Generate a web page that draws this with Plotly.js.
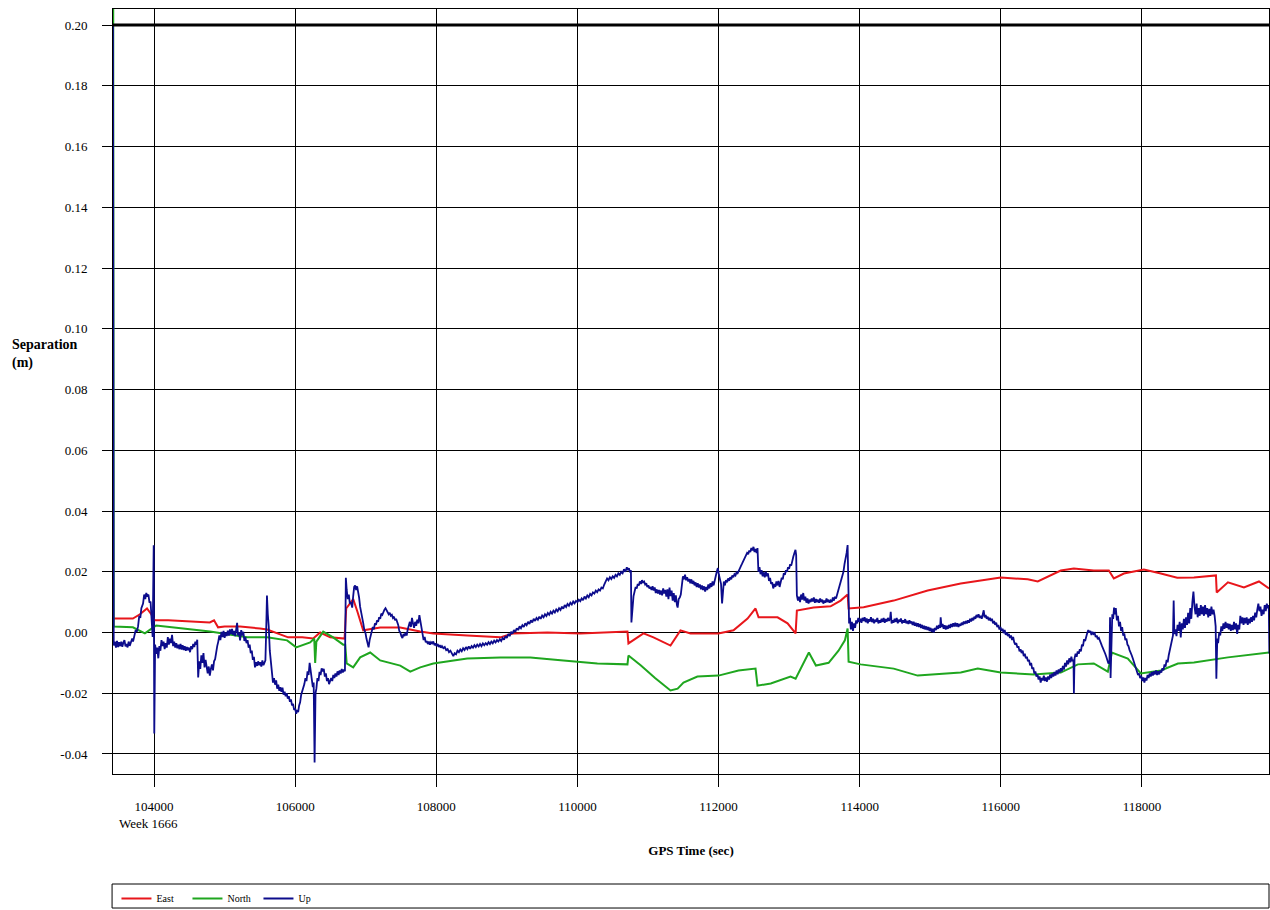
<!DOCTYPE html>
<html>
<head>
<meta charset="utf-8">
<script src="https://cdn.plot.ly/plotly-3.0.1.min.js"></script>
<style>html,body{margin:0;padding:0;background:#fff;}#chart{width:1270px;height:910px;}</style>
</head>
<body>
<div id="chart"></div>
<script>
// GPS time (sec), week 1666
const eastT = [103418,103700,103800,103900,103960,104010,104200,104500,104790,104850,104907,105000,105219,105500,105602,105900,106100,106255,106354,106496,106700,106723,106780,106822,106880,106964,107205,107489,107772,107957,108439,108907,109092,109574,110042,110709,110723,110936,111078,111319,111460,111602,111999,112212,112411,112524,112567,112836,112978,113092,113110,113347,113588,113730,113829,113843,114056,114482,114964,115432,115999,116382,116524,116850,117035,117318,117531,117602,117744,118028,118268,118500,118737,119049,119060,119219,119446,119659,119801];
const eastV = [0.0046,0.0046,0.0060,0.0079,0.0060,0.0040,0.0040,0.0036,0.0033,0.0040,0.0017,0.0020,0.0020,0.0013,0.0010,-0.0016,-0.0016,-0.0020,0.0000,-0.0016,-0.0020,0.0079,0.0095,0.0110,0.0070,0.0007,0.0016,0.0016,0.0003,-0.0003,-0.0010,-0.0016,-0.0003,0.0000,-0.0003,0.0003,-0.0036,-0.0003,-0.0016,-0.0043,0.0007,-0.0003,-0.0003,0.0007,0.0046,0.0079,0.0050,0.0050,0.0030,-0.0003,0.0072,0.0082,0.0086,0.0105,0.0125,0.0079,0.0083,0.0105,0.0138,0.0161,0.0181,0.0175,0.0168,0.0204,0.0211,0.0204,0.0204,0.0178,0.0194,0.0207,0.0194,0.0180,0.0181,0.0188,0.0132,0.0165,0.0148,0.0168,0.0145];

const northT = [103418,103428,103700,103800,103870,103950,104030,104411,104794,105319,105602,105886,106014,106212,106270,106283,106300,106397,106538,106680,106709,106730,106822,106921,107063,107205,107489,107631,107772,107957,108439,108907,109333,109801,110283,110709,110723,110900,111100,111319,111420,111503,111700,111999,112283,112524,112552,112740,113020,113092,113162,113280,113380,113560,113700,113790,113829,113843,114013,114482,114822,115432,115673,115999,116467,116850,117092,117318,117517,117574,117800,117985,118268,118510,118737,119219,119801];
const northV = [0.3000,0.0020,0.0017,0.0005,-0.0003,0.0010,0.0023,0.0013,0.0003,-0.0016,-0.0016,-0.0026,-0.0049,-0.0033,-0.0020,-0.0100,-0.0030,0.0003,-0.0016,-0.0040,-0.0040,-0.0102,-0.0115,-0.0082,-0.0066,-0.0092,-0.0109,-0.0129,-0.0115,-0.0102,-0.0086,-0.0082,-0.0082,-0.0092,-0.0102,-0.0105,-0.0076,-0.0109,-0.0150,-0.0191,-0.0185,-0.0165,-0.0145,-0.0142,-0.0125,-0.0119,-0.0175,-0.0168,-0.0145,-0.0152,-0.0119,-0.0066,-0.0109,-0.0100,-0.0060,-0.0026,0.0013,-0.0096,-0.0105,-0.0119,-0.0142,-0.0132,-0.0119,-0.0132,-0.0138,-0.0132,-0.0105,-0.0102,-0.0129,-0.0066,-0.0086,-0.0135,-0.0125,-0.0102,-0.0099,-0.0082,-0.0066];

// Up component as [time, separation] readings
const upPoints = [
[103418,0.2000],[103428,-0.0043],[103445,-0.0030],[103460,-0.0050],[103475,-0.0028],[103490,-0.0048],[103505,-0.0032],[103520,-0.0045],[103535,-0.0030],[103550,-0.0047],[103565,-0.0033],[103580,-0.0025],[103595,-0.0046],[103610,-0.0038],[103625,-0.0049],[103640,-0.0030],[103655,-0.0044],[103670,-0.0036],[103690,-0.0020],[103702,-0.0030],[103720,-0.0005],[103740,0.0008],[103755,0.0002],[103773,0.0020],[103790,0.0055],[103805,0.0048],[103820,0.0080],[103844,0.0095],[103860,0.0125],[103875,0.0110],[103890,0.0130],[103905,0.0118],[103920,0.0125],[103935,0.0098],[103950,0.0102],[103962,0.0040],[103980,-0.0015],[103995,0.0287],[104003,-0.0333],[104015,-0.0040],
[104030,-0.0070],[104045,-0.0050],[104060,-0.0085],[104075,-0.0045],[104090,-0.0060],[104105,-0.0025],[104120,-0.0045],[104135,-0.0030],[104150,-0.0055],[104165,-0.0035],[104180,-0.0050],[104195,-0.0015],[104210,-0.0040],[104225,-0.0020],[104240,-0.0035],[104255,-0.0008],[104270,-0.0045],[104285,-0.0030],[104300,-0.0050],[104315,-0.0035],[104330,-0.0052],[104345,-0.0040],[104360,-0.0055],[104375,-0.0038],[104390,-0.0056],[104405,-0.0042],[104420,-0.0058],[104435,-0.0045],[104450,-0.0060],[104465,-0.0048],[104480,-0.0058],[104495,-0.0050],[104510,-0.0065],[104525,-0.0045],[104540,-0.0055],[104555,-0.0038],[104570,-0.0048],[104585,-0.0030],[104600,-0.0040],[104612,-0.0024],[104625,-0.0148],[104640,-0.0095],[104655,-0.0120],[104670,-0.0075],[104685,-0.0100],[104700,-0.0068],[104715,-0.0115],[104730,-0.0090],[104745,-0.0108],[104760,-0.0135],[104775,-0.0112],[104790,-0.0142],[104805,-0.0120],[104820,-0.0105],[104835,-0.0125],[104850,-0.0095],[104865,-0.0088],[104880,-0.0060],[104895,-0.0045],[104910,-0.0030],[104925,-0.0010],[104940,-0.0025],[104955,0.0002],[104970,-0.0015],[104985,0.0005],[105000,-0.0018],[105015,0.0000],[105030,-0.0012],[105045,0.0006],[105060,-0.0010],[105075,0.0010],[105090,-0.0005],[105105,0.0012],[105120,-0.0008],[105135,0.0005],[105150,-0.0012],[105165,0.0015],[105177,0.0032],[105190,-0.0010],[105205,0.0000],[105219,-0.0026],[105235,0.0008],[105250,-0.0010],[105265,0.0002],[105280,-0.0028],[105295,-0.0015],[105310,-0.0035],[105325,-0.0025],[105340,-0.0050],[105355,-0.0040],[105370,-0.0068],[105385,-0.0060],[105400,-0.0090],[105415,-0.0080],[105430,-0.0115],[105445,-0.0098],[105460,-0.0110],[105475,-0.0095],[105490,-0.0108],[105505,-0.0098],[105520,-0.0112],[105535,-0.0092],[105550,-0.0108],[105565,-0.0100],[105578,-0.0092],[105588,-0.0003],[105600,0.0122],[105612,0.0060],[105625,0.0020],[105640,-0.0060],[105655,-0.0100],[105670,-0.0120],[105685,-0.0165],[105700,-0.0150],[105715,-0.0172],[105730,-0.0158],[105745,-0.0185],[105760,-0.0172],[105775,-0.0192],[105790,-0.0180],[105805,-0.0195],[105820,-0.0182],[105835,-0.0205],[105850,-0.0195],[105865,-0.0210],[105880,-0.0200],[105895,-0.0218],[105910,-0.0210],[105925,-0.0228],[105940,-0.0220],[105955,-0.0240],[105970,-0.0235],[105985,-0.0255],[106000,-0.0250],[106014,-0.0268],[106028,-0.0255],[106042,-0.0262],[106056,-0.0240],[106070,-0.0230],[106085,-0.0205],[106100,-0.0195],[106115,-0.0180],[106130,-0.0170],[106145,-0.0150],[106160,-0.0160],[106175,-0.0128],[106190,-0.0140],[106205,-0.0100],[106220,-0.0130],[106235,-0.0155],[106250,-0.0180],[106262,-0.0165],[106275,-0.0428],[106288,-0.0200],[106300,-0.0185],[106315,-0.0150],[106330,-0.0160],[106345,-0.0130],[106360,-0.0140],[106375,-0.0118],[106390,-0.0128],[106405,-0.0120],[106420,-0.0145],[106435,-0.0135],[106450,-0.0160],[106465,-0.0150],[106480,-0.0170],[106495,-0.0160],[106510,-0.0150],[106525,-0.0160],[106540,-0.0140],[106555,-0.0150],[106570,-0.0135],[106585,-0.0145],[106600,-0.0128],[106615,-0.0140],[106630,-0.0125],[106645,-0.0135],[106660,-0.0120],[106675,-0.0132],[106690,-0.0122],[106705,-0.0128],
[106718,0.0180],[106730,0.0140],[106745,0.0110],[106760,0.0125],[106775,0.0095],[106790,0.0100],[106808,0.0082],[106822,0.0120],[106836,0.0150],[106850,0.0155],[106864,0.0140],[106878,0.0152],[106892,0.0135],[106906,0.0115],[106920,0.0085],[106935,0.0070],[106950,0.0045],[106965,0.0030],[106980,0.0008],[106995,0.0000],[107010,-0.0020],[107025,-0.0035],[107040,-0.0049],[107055,-0.0025],[107070,-0.0010],[107085,0.0005],[107100,0.0018],[107115,0.0010],[107130,0.0030],[107145,0.0025],[107160,0.0040],[107175,0.0035],[107190,0.0050],[107205,0.0045],[107220,0.0062],[107235,0.0058],[107250,0.0070],[107265,0.0075],[107280,0.0080],[107295,0.0072],[107310,0.0068],[107325,0.0060],[107340,0.0065],[107355,0.0055],[107370,0.0058],[107385,0.0048],[107400,0.0052],[107415,0.0040],[107430,0.0045],[107445,0.0035],[107460,0.0025],[107475,0.0005],[107490,0.0000],[107505,-0.0012],[107520,-0.0018],[107535,-0.0005],[107550,-0.0012],[107565,0.0000],[107580,-0.0010],[107595,0.0010],[107610,0.0025],[107625,0.0035],[107640,0.0018],[107655,0.0048],[107670,0.0030],[107685,0.0015],[107700,0.0035],[107715,0.0022],[107730,0.0042],[107745,0.0030],[107760,0.0057],[107775,0.0035],[107790,0.0010],[107805,-0.0010],[107820,-0.0025],[107835,-0.0015],[107850,-0.0032],[107865,-0.0028],[107880,-0.0038],[107895,-0.0030],[107910,-0.0040],[107925,-0.0032],[107940,-0.0036],[107957,-0.0030],[107975,-0.0042],[107990,-0.0036],[108005,-0.0045],[108020,-0.0038],[108035,-0.0048],[108050,-0.0042],[108065,-0.0050],[108080,-0.0045],[108100,-0.0052],[108120,-0.0048],[108140,-0.0058],[108160,-0.0055],[108180,-0.0065],[108200,-0.0060],[108220,-0.0072],[108241,-0.0078],[108260,-0.0068],[108280,-0.0072],[108300,-0.0060],[108320,-0.0065],[108340,-0.0056],[108360,-0.0062],[108380,-0.0052],[108400,-0.0058],[108420,-0.0048],[108440,-0.0055],[108460,-0.0046],[108480,-0.0054],[108500,-0.0045],[108520,-0.0050],[108540,-0.0042],[108560,-0.0048],[108580,-0.0040],[108600,-0.0046],[108620,-0.0038],[108640,-0.0045],[108660,-0.0036],[108680,-0.0042],[108700,-0.0035],[108720,-0.0040],[108740,-0.0032],[108760,-0.0038],[108780,-0.0030],[108800,-0.0036],[108820,-0.0027],[108840,-0.0033],[108860,-0.0025],[108880,-0.0030],[108900,-0.0022],[108920,-0.0028],[108940,-0.0018],[108960,-0.0024],[108980,-0.0012],[109000,-0.0018],[109020,-0.0005],[109040,-0.0012],[109060,0.0002],[109080,-0.0004],[109100,0.0008],[109120,0.0002],[109140,0.0014],[109160,0.0008],[109180,0.0020],[109200,0.0014],[109220,0.0024],[109240,0.0018],[109260,0.0030],[109280,0.0024],[109300,0.0035],[109320,0.0028],[109340,0.0040],[109360,0.0033],[109380,0.0045],[109400,0.0038],[109420,0.0048],[109440,0.0042],[109460,0.0052],[109480,0.0045],[109500,0.0056],[109520,0.0050],[109540,0.0060],[109560,0.0054],[109580,0.0064],[109600,0.0058],[109620,0.0068],[109640,0.0062],[109660,0.0072],[109680,0.0066],[109700,0.0076],[109720,0.0070],[109740,0.0080],[109760,0.0074],[109780,0.0085],[109800,0.0078],[109820,0.0090],[109840,0.0084],[109860,0.0094],[109880,0.0088],[109900,0.0098],[109920,0.0092],[109940,0.0102],[109960,0.0096],[109980,0.0104],[110000,0.0100],[110020,0.0108],[110040,0.0103],[110060,0.0112],[110080,0.0106],[110100,0.0118],[110120,0.0112],[110140,0.0122],[110160,0.0116],[110180,0.0127],[110200,0.0122],[110220,0.0132],[110240,0.0128],[110260,0.0138],[110280,0.0133],[110300,0.0142],[110320,0.0138],[110340,0.0148],[110360,0.0145],[110380,0.0158],[110400,0.0170],[110420,0.0178],[110440,0.0172],[110460,0.0182],[110480,0.0176],[110500,0.0185],[110520,0.0180],[110540,0.0190],[110560,0.0185],[110580,0.0195],[110600,0.0190],[110620,0.0200],[110640,0.0195],[110660,0.0208],[110680,0.0200],[110700,0.0215],[110715,0.0205],[110730,0.0212],[110745,0.0198],[110758,0.0205],
[110765,0.0033],[110780,0.0100],[110795,0.0120],[110810,0.0135],[110825,0.0150],[110840,0.0145],[110855,0.0160],[110870,0.0155],[110885,0.0168],[110900,0.0160],[110915,0.0172],[110930,0.0165],[110945,0.0168],[110960,0.0158],[110975,0.0162],[110990,0.0150],[111005,0.0155],[111020,0.0145],[111035,0.0150],[111050,0.0140],[111065,0.0152],[111080,0.0138],[111095,0.0148],[111110,0.0130],[111125,0.0142],[111140,0.0128],[111155,0.0140],[111170,0.0125],[111185,0.0138],[111200,0.0122],[111215,0.0145],[111230,0.0128],[111245,0.0140],[111260,0.0118],[111275,0.0142],[111290,0.0110],[111305,0.0148],[111320,0.0120],[111335,0.0138],[111350,0.0105],[111365,0.0130],[111380,0.0100],[111395,0.0122],[111410,0.0090],[111420,0.0082],[111435,0.0110],[111450,0.0115],[111465,0.0125],[111480,0.0150],[111495,0.0185],[111510,0.0175],[111525,0.0190],[111540,0.0172],[111555,0.0182],[111570,0.0168],[111585,0.0176],[111600,0.0162],[111615,0.0175],[111630,0.0160],[111645,0.0170],[111660,0.0155],[111675,0.0165],[111690,0.0150],[111705,0.0162],[111720,0.0148],[111735,0.0158],[111750,0.0142],[111765,0.0155],[111780,0.0140],[111795,0.0152],[111810,0.0135],[111825,0.0150],[111840,0.0140],[111855,0.0158],[111870,0.0145],[111885,0.0162],[111900,0.0150],[111915,0.0168],[111930,0.0155],[111945,0.0175],[111960,0.0185],[111975,0.0200],[111990,0.0212],[112005,0.0190],[112020,0.0175],[112035,0.0160],[112050,0.0096],[112062,0.0150],[112075,0.0168],[112090,0.0155],[112105,0.0172],[112120,0.0165],[112135,0.0178],[112150,0.0170],[112165,0.0182],[112180,0.0175],[112195,0.0188],[112210,0.0182],[112225,0.0192],[112240,0.0188],[112255,0.0198],[112270,0.0195],[112285,0.0205],[112300,0.0210],[112315,0.0218],[112330,0.0225],[112345,0.0232],[112360,0.0240],[112375,0.0248],[112390,0.0252],[112405,0.0262],[112420,0.0258],[112435,0.0270],[112450,0.0265],[112465,0.0278],[112480,0.0270],[112495,0.0282],[112510,0.0265],[112525,0.0275],[112540,0.0262],[112552,0.0278],[112565,0.0200],[112580,0.0215],[112595,0.0192],[112610,0.0205],[112625,0.0185],[112640,0.0198],[112655,0.0182],[112670,0.0200],[112685,0.0185],[112700,0.0195],[112715,0.0170],[112730,0.0180],[112745,0.0160],[112760,0.0165],[112775,0.0145],[112790,0.0160],[112805,0.0150],[112820,0.0168],[112835,0.0155],[112850,0.0170],[112865,0.0150],[112880,0.0165],[112895,0.0180],[112910,0.0175],[112925,0.0195],[112940,0.0190],[112955,0.0205],[112970,0.0200],[112985,0.0215],[113000,0.0210],[113015,0.0225],[113030,0.0220],[113045,0.0240],[113060,0.0250],[113075,0.0262],[113090,0.0272],[113100,0.0255],
[113110,0.0122],[113125,0.0105],[113140,0.0118],[113155,0.0100],[113170,0.0125],[113185,0.0108],[113200,0.0130],[113215,0.0105],[113230,0.0118],[113245,0.0098],[113260,0.0112],[113275,0.0095],[113290,0.0108],[113305,0.0100],[113320,0.0112],[113335,0.0102],[113350,0.0115],[113365,0.0098],[113380,0.0110],[113395,0.0100],[113410,0.0108],[113425,0.0098],[113440,0.0112],[113455,0.0100],[113470,0.0108],[113485,0.0095],[113500,0.0105],[113515,0.0098],[113530,0.0112],[113545,0.0100],[113560,0.0108],[113575,0.0098],[113590,0.0105],[113605,0.0100],[113620,0.0115],[113635,0.0105],[113650,0.0118],[113665,0.0112],[113680,0.0125],[113695,0.0130],[113710,0.0145],[113725,0.0155],[113740,0.0170],[113755,0.0185],[113770,0.0200],[113785,0.0225],[113800,0.0240],[113815,0.0262],[113829,0.0288],
[113840,0.0063],[113850,0.0030],[113862,0.0048],[113875,0.0010],[113890,0.0035],[113905,0.0005],[113920,0.0030],[113935,0.0015],[113950,0.0040],[113965,0.0030],[113980,0.0048],[113995,0.0035],[114010,0.0045],[114025,0.0032],[114040,0.0048],[114055,0.0038],[114070,0.0050],[114085,0.0034],[114100,0.0046],[114115,0.0030],[114130,0.0044],[114145,0.0036],[114160,0.0050],[114175,0.0034],[114190,0.0045],[114205,0.0030],[114220,0.0042],[114235,0.0035],[114250,0.0048],[114265,0.0030],[114280,0.0040],[114295,0.0032],[114310,0.0045],[114325,0.0035],[114340,0.0048],[114355,0.0032],[114370,0.0044],[114385,0.0036],[114400,0.0048],[114415,0.0038],[114430,0.0045],[114440,0.0068],[114452,0.0030],[114465,0.0040],[114480,0.0032],[114495,0.0045],[114510,0.0035],[114525,0.0048],[114540,0.0030],[114555,0.0042],[114570,0.0035],[114585,0.0046],[114600,0.0030],[114615,0.0040],[114630,0.0032],[114645,0.0044],[114660,0.0030],[114675,0.0038],[114690,0.0028],[114705,0.0040],[114720,0.0030],[114735,0.0036],[114750,0.0025],[114765,0.0035],[114780,0.0022],[114795,0.0032],[114810,0.0020],[114825,0.0030],[114840,0.0018],[114855,0.0028],[114870,0.0015],[114885,0.0025],[114900,0.0012],[114915,0.0022],[114930,0.0010],[114945,0.0020],[114960,0.0008],[114975,0.0018],[114990,0.0005],[115005,0.0015],[115020,0.0002],[115035,0.0012],[115050,0.0000],[115065,0.0015],[115080,0.0008],[115095,0.0022],[115110,0.0012],[115125,0.0025],[115140,0.0015],[115148,0.0050],[115160,0.0018],[115175,0.0028],[115190,0.0012],[115205,0.0024],[115220,0.0010],[115235,0.0022],[115250,0.0012],[115265,0.0025],[115280,0.0015],[115295,0.0028],[115310,0.0018],[115325,0.0030],[115340,0.0020],[115355,0.0032],[115370,0.0020],[115385,0.0030],[115400,0.0018],[115415,0.0028],[115430,0.0022],[115445,0.0032],[115460,0.0025],[115475,0.0036],[115490,0.0028],[115505,0.0038],[115520,0.0030],[115535,0.0040],[115550,0.0032],[115565,0.0045],[115580,0.0036],[115595,0.0048],[115610,0.0040],[115625,0.0052],[115640,0.0045],[115655,0.0058],[115670,0.0050],[115685,0.0060],[115700,0.0048],[115715,0.0055],[115730,0.0045],[115745,0.0062],[115758,0.0073],[115770,0.0050],[115785,0.0058],[115800,0.0045],[115815,0.0052],[115830,0.0040],[115845,0.0048],[115860,0.0038],[115875,0.0045],[115890,0.0030],[115905,0.0038],[115920,0.0025],[115935,0.0032],[115950,0.0018],[115965,0.0025],[115980,0.0010],[115995,0.0018],[116010,0.0005],[116025,0.0012],[116040,-0.0002],[116055,0.0008],[116070,-0.0008],[116085,0.0000],[116100,-0.0012],[116115,-0.0005],[116130,-0.0018],[116145,-0.0010],[116160,-0.0025],[116175,-0.0015],[116190,-0.0032],[116205,-0.0040],[116220,-0.0035],[116235,-0.0050],[116250,-0.0045],[116265,-0.0062],[116280,-0.0055],[116295,-0.0068],[116310,-0.0060],[116325,-0.0078],[116340,-0.0070],[116355,-0.0085],[116370,-0.0080],[116385,-0.0095],[116400,-0.0090],[116415,-0.0108],[116430,-0.0100],[116445,-0.0120],[116460,-0.0115],[116475,-0.0135],[116490,-0.0128],[116505,-0.0145],[116520,-0.0138],[116535,-0.0155],[116550,-0.0145],[116565,-0.0165],[116580,-0.0150],[116595,-0.0158],[116610,-0.0142],[116625,-0.0160],[116640,-0.0148],[116655,-0.0162],[116670,-0.0145],[116685,-0.0155],[116700,-0.0138],[116715,-0.0150],[116730,-0.0135],[116745,-0.0145],[116760,-0.0130],[116775,-0.0142],[116790,-0.0125],[116805,-0.0138],[116820,-0.0122],[116835,-0.0132],[116850,-0.0118],[116865,-0.0128],[116880,-0.0110],[116895,-0.0122],[116910,-0.0100],[116925,-0.0112],[116940,-0.0092],[116955,-0.0105],[116970,-0.0085],[116985,-0.0098],[117000,-0.0080],[117015,-0.0095],[117030,-0.0090],[117036,-0.0201],[117045,-0.0085],[117060,-0.0070],[117075,-0.0080],[117090,-0.0062],[117105,-0.0070],[117120,-0.0055],[117135,-0.0062],[117150,-0.0040],[117165,-0.0045],[117180,-0.0022],[117195,-0.0028],[117210,-0.0008],[117225,-0.0002],[117240,0.0008],[117255,0.0000],[117270,0.0005],[117285,-0.0008],[117300,0.0002],[117315,-0.0005],[117330,-0.0002],[117345,-0.0015],[117360,-0.0010],[117375,-0.0022],[117390,-0.0018],[117405,-0.0032],[117420,-0.0036],[117435,-0.0045],[117450,-0.0052],[117465,-0.0060],[117480,-0.0070],[117495,-0.0080],[117510,-0.0090],[117525,-0.0102],[117540,-0.0098],[117548,0.0050],[117556,-0.0150],[117566,0.0000],[117580,0.0060],[117592,0.0045],[117605,0.0082],[117618,0.0060],[117630,0.0080],[117645,0.0040],[117660,0.0055],[117675,0.0020],[117690,0.0035],[117705,0.0005],[117720,0.0018],[117735,-0.0010],[117750,-0.0003],[117765,-0.0025],[117780,-0.0020],[117795,-0.0040],[117810,-0.0045],[117825,-0.0058],[117840,-0.0065],[117855,-0.0075],[117870,-0.0085],[117885,-0.0095],[117900,-0.0108],[117915,-0.0118],[117930,-0.0128],[117945,-0.0140],[117960,-0.0135],[117975,-0.0150],[117990,-0.0142],[118005,-0.0160],[118020,-0.0148],[118035,-0.0165],[118050,-0.0150],[118065,-0.0158],[118080,-0.0140],[118095,-0.0150],[118110,-0.0135],[118125,-0.0145],[118140,-0.0130],[118155,-0.0142],[118170,-0.0128],[118185,-0.0138],[118200,-0.0125],[118215,-0.0140],[118230,-0.0128],[118245,-0.0138],[118260,-0.0125],[118275,-0.0132],[118290,-0.0118],[118305,-0.0125],[118320,-0.0105],[118335,-0.0112],[118350,-0.0090],[118365,-0.0098],[118380,-0.0075],[118395,-0.0060],[118410,-0.0040],[118425,-0.0030],[118440,-0.0010],[118450,0.0105],[118460,-0.0005],[118475,0.0010],[118490,-0.0012],[118505,0.0025],[118520,0.0005],[118535,0.0035],[118550,-0.0016],[118565,0.0030],[118580,0.0010],[118595,0.0045],[118610,0.0015],[118625,0.0050],[118640,0.0025],[118655,0.0065],[118670,0.0030],[118685,0.0080],[118700,0.0045],[118715,0.0100],[118730,0.0135],[118745,0.0085],[118760,0.0060],[118775,0.0095],[118790,0.0050],[118805,0.0080],[118820,0.0055],[118835,0.0090],[118850,0.0060],[118865,0.0085],[118880,0.0055],[118895,0.0090],[118910,0.0060],[118925,0.0080],[118940,0.0050],[118955,0.0078],[118970,0.0055],[118985,0.0085],[119000,0.0060],[119015,0.0075],[119030,0.0055],[119045,0.0020],[119055,-0.0152],[119068,-0.0020],[119080,-0.0035],[119095,0.0000],[119110,-0.0010],[119125,0.0020],[119140,0.0005],[119155,0.0030],[119170,0.0012],[119185,0.0035],[119200,0.0015],[119215,0.0030],[119230,0.0010],[119245,0.0028],[119260,0.0005],[119275,0.0025],[119290,0.0008],[119305,0.0035],[119320,0.0010],[119335,0.0030],[119350,-0.0005],[119365,0.0025],[119380,0.0010],[119395,0.0055],[119410,0.0030],[119425,0.0050],[119440,0.0025],[119455,0.0048],[119470,0.0030],[119485,0.0050],[119500,0.0025],[119515,0.0045],[119530,0.0030],[119545,0.0050],[119560,0.0035],[119575,0.0055],[119590,0.0040],[119605,0.0065],[119620,0.0050],[119635,0.0075],[119650,0.0095],[119665,0.0070],[119680,0.0085],[119695,0.0055],[119710,0.0075],[119725,0.0060],[119740,0.0090],[119755,0.0070],[119770,0.0095],[119785,0.0080],[119798,0.0090],[119806,-0.0069]
];
const upT = upPoints.map(p => p[0]);
const upV = upPoints.map(p => p[1]);

const xTicks = [104000,106000,108000,110000,112000,114000,116000,118000];
const yTicks = [-0.04,-0.02,0.00,0.02,0.04,0.06,0.08,0.10,0.12,0.14,0.16,0.18,0.20];
const seriesNames = ['East','North','Up'];
const seriesColors = ['#e8161b','#1fa61f','#0c0c8c'];

const FONT = '"Liberation Serif", serif';

const traces = [
  {x: eastT, y: eastV, name: seriesNames[0], mode: 'lines', line: {color: seriesColors[0], width: 2}},
  {x: northT, y: northV, name: seriesNames[1], mode: 'lines', line: {color: seriesColors[1], width: 2}},
  {x: upT, y: upV, name: seriesNames[2], mode: 'lines', line: {color: seriesColors[2], width: 1.8}}
];

const layout = {
  width: 1270, height: 910,
  margin: {l: 113, r: 1, t: 9, b: 136, autoexpand: false},
  paper_bgcolor: '#fff', plot_bgcolor: '#fff',
  font: {family: FONT, color: '#000', size: 13},
  showlegend: true,
  legend: {orientation: 'h', x: 0.003, xanchor: 'left', y: -0.1438, yanchor: 'top',
           font: {family: FONT, size: 10, color: '#000'}, bgcolor: 'rgba(0,0,0,0)',
           entrywidth: 26, entrywidthmode: 'pixels', itemwidth: 30},
  xaxis: {
    range: [103418, 119801], tickvals: xTicks, ticktext: xTicks.map(String),
    automargin: false,
    showgrid: true, gridcolor: '#000', gridwidth: 1,
    ticks: 'outside', ticklen: 12, tickcolor: '#000', tickwidth: 1,
    ticklabelstandoff: 8,
    showline: true, linecolor: '#000', linewidth: 1, mirror: true,
    zeroline: false, tickfont: {family: FONT, size: 13, color: '#000'},
    title: {text: '<b>GPS Time (sec)</b>', font: {family: FONT, size: 13, color: '#000'}, standoff: 33}
  },
  yaxis: {
    range: [-0.0466, 0.2053], tickvals: yTicks, ticktext: yTicks.map(v => v.toFixed(2)),
    automargin: false,
    showgrid: true, gridcolor: '#000', gridwidth: 1,
    ticks: 'outside', ticklen: 10, tickcolor: '#000', tickwidth: 1,
    ticklabelstandoff: 12,
    showline: true, linecolor: '#000', linewidth: 1, mirror: true,
    zeroline: false, tickfont: {family: FONT, size: 13, color: '#000'}
  },
  shapes: [
    {type: 'line', xref: 'paper', yref: 'y', x0: 0, x1: 1, y0: 0.2, y1: 0.2, line: {color: '#000', width: 3}},
    {type: 'rect', xref: 'paper', yref: 'paper', x0: -0.0008, x1: 1, y0: -0.1438, y1: -0.1752, line: {color: '#000', width: 1}, fillcolor: 'rgba(0,0,0,0)'}
  ],
  annotations: [
    {text: '<b>Separation<br>(m)</b>', xref: 'paper', yref: 'paper', x: -0.0891, y: 0.5485, xanchor: 'left', yanchor: 'middle', align: 'left', showarrow: false, font: {family: FONT, size: 14, color: '#000'}},
    {text: 'Week 1666', xref: 'paper', yref: 'paper', x: 0.0035, y: -0.065, xanchor: 'left', yanchor: 'middle', showarrow: false, font: {family: FONT, size: 13, color: '#000'}}
  ]
};

Plotly.newPlot('chart', traces, layout, {displayModeBar: false, staticPlot: true});
</script>
</body>
</html>
